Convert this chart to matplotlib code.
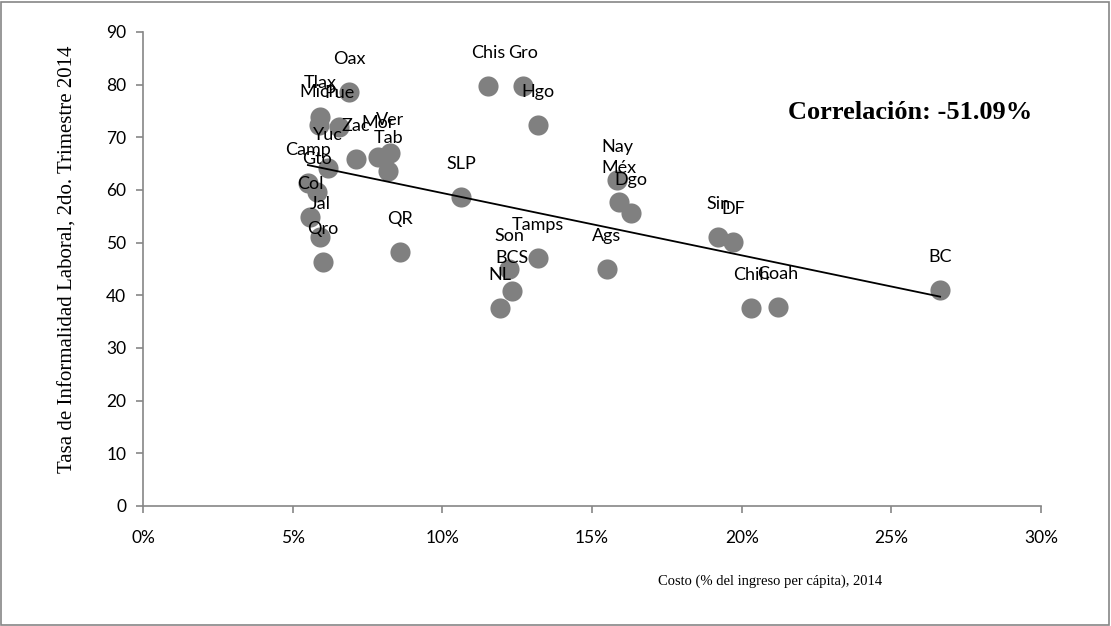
import matplotlib.pyplot as plt
import numpy as np
from matplotlib.ticker import FuncFormatter

# Estado, costo (% del ingreso per capita) y tasa de informalidad laboral
states = ['Oax', 'Tlax', 'Mich', 'Pue', 'Zac', 'Mor', 'Ver', 'Tab', 'Yuc',
          'Camp', 'Gto', 'Col', 'Jal', 'Qro', 'QR', 'SLP', 'Chis', 'Gro',
          'Hgo', 'Tamps', 'Son', 'BCS', 'NL', 'Ags', 'Nay', 'Méx', 'Dgo',
          'Sin', 'DF', 'Chih', 'Coah', 'BC']
cost = [6.88, 5.91, 5.88, 6.55, 7.12, 7.85, 8.25, 8.19, 6.18,
        5.51, 5.81, 5.58, 5.91, 6.01, 8.59, 10.62, 11.53, 12.70,
        13.20, 13.20, 12.23, 12.33, 11.93, 15.50, 15.84, 15.90, 16.30,
        19.21, 19.71, 20.32, 21.22, 26.63]
informality = [78.6, 73.9, 72.3, 72.0, 65.9, 66.3, 67.0, 63.6, 64.2,
               61.3, 59.6, 54.9, 51.1, 46.3, 48.2, 58.7, 79.7, 79.7,
               72.3, 47.1, 45.0, 40.8, 37.6, 45.0, 61.9, 57.8, 55.6,
               51.1, 50.1, 37.6, 37.8, 41.0]
corr_text = 'Correlación: -51.09%'

label_font = 'Lato'
serif_font = 'Liberation Serif'
grey = '#868686'

fig = plt.figure(figsize=(11.11, 6.26), dpi=100)
ax = fig.add_axes([0.1287, 0.1917, 0.8083, 0.7572])

ax.scatter(cost, informality, s=210, color='#808080', zorder=3, linewidths=0)

# Linear trend line over the data range
slope, intercept = np.polyfit(cost, informality, 1)
xs = np.array([min(cost), max(cost)])
ax.plot(xs, slope * xs + intercept, color='black', lw=1.3, zorder=4)

for name, x, y in zip(states, cost, informality):
    ax.annotate(name, (x, y), xytext=(0, 24), textcoords='offset points',
                ha='center', va='center', fontsize=13, family=label_font,
                zorder=5)

ax.text(0.854, 0.831, corr_text, transform=ax.transAxes, ha='center',
        va='center', fontsize=19, fontweight='bold', family=serif_font)

ax.set_xlim(0, 30)
ax.set_ylim(0, 90)
ax.set_xticks(range(0, 31, 5))
ax.set_yticks(range(0, 91, 10))
ax.xaxis.set_major_formatter(FuncFormatter(lambda v, p: f'{v:.0f}%'))

for side in ['top', 'right']:
    ax.spines[side].set_visible(False)
for side in ['left', 'bottom']:
    ax.spines[side].set_color(grey)
    ax.spines[side].set_linewidth(1.2)
ax.tick_params(direction='out', length=5, color=grey, width=1.2,
               labelsize=12.5)
ax.tick_params(axis='x', pad=12)
ax.tick_params(axis='y', pad=7)
for lab in ax.get_xticklabels() + ax.get_yticklabels():
    lab.set_family(label_font)

ax.set_ylabel('Tasa de Informalidad Laboral, 2do. Trimestre 2014',
              family=serif_font, fontsize=15, va='center')
ax.yaxis.set_label_coords(-0.084, 0.52)
ax.text(0.698, -0.158, 'Costo (% del ingreso per cápita), 2014',
        transform=ax.transAxes, ha='center', va='center',
        family=serif_font, fontsize=10.5)

# Chart frame
fig.patches.append(plt.Rectangle((0.001, 0.002), 0.997, 0.995,
                                 transform=fig.transFigure, fill=False,
                                 edgecolor=grey, lw=1.2))

fig.savefig('out.png', dpi=100)
